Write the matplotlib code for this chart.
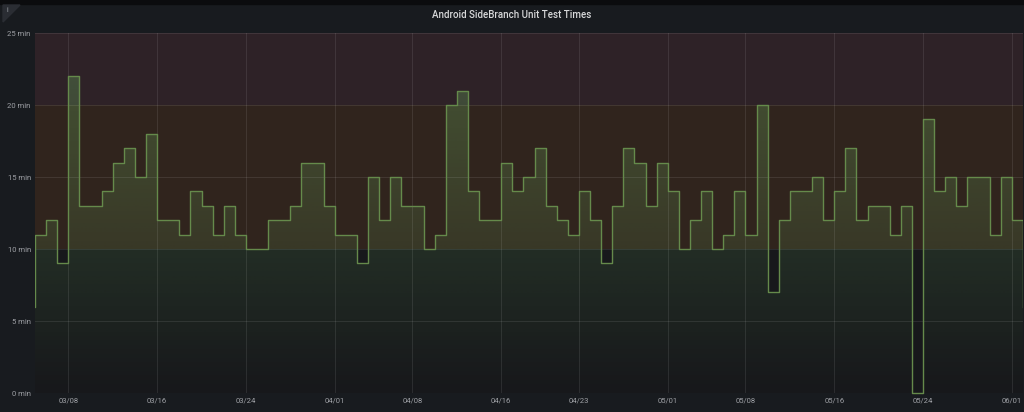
import numpy as np
import pandas as pd
import matplotlib
matplotlib.use("Agg")
import matplotlib.pyplot as plt
import matplotlib.dates as mdates
from matplotlib.patches import Rectangle, Polygon

# ---------------- data ----------------
title = "Android SideBranch Unit Test Times"
start_date = "2021-03-04"
# daily unit test time in minutes (first and last are partial points at the window edges)
minutes = [6,
           11, 12, 9, 22, 13, 13, 14, 16, 17, 15, 18, 12, 12, 11, 14, 13, 11, 13, 11,
           10, 10, 12, 12, 13, 16, 16, 13,
           11, 11, 9, 15, 12, 15, 13, 13, 10, 11, 20, 21, 14, 12, 12, 16, 14, 15, 17,
           13, 12, 11, 14, 12, 9, 13, 17, 16, 13, 16,
           14, 10, 12, 14, 10, 11, 14, 11, 20, 7, 12, 14, 14, 15, 12, 14, 17, 12, 13,
           13, 11, 13, 0, 19, 14, 15, 13, 15, 15, 11, 15,
           12,
           6]
dates = pd.date_range(start_date, periods=len(minutes), freq="D")
x_min, x_max = "2021-03-05", "2021-06-02"
tick_dates = ["2021-03-08", "2021-03-16", "2021-03-24", "2021-04-01", "2021-04-08",
              "2021-04-16", "2021-04-23", "2021-05-01", "2021-05-08", "2021-05-16",
              "2021-05-24", "2021-06-01"]
y_ticks = [0, 5, 10, 15, 20, 25]
y_tick_labels = ["0 min", "5 min", "10 min", "15 min", "20 min", "25 min"]
thresholds = [(10, 20, "#30241d"), (20, 25, "#2e2227")]

# ---------------- style ----------------
plt.rcParams['font.family'] = ['Roboto', 'DejaVu Sans']
W, H = 1024, 412
fig = plt.figure(figsize=(W / 100, H / 100), dpi=100, facecolor="#181b1f")

# header strip and info corner
fig.patches.append(Rectangle((0, 1 - 4 / H), 1, 4 / H, transform=fig.transFigure,
                             color="#0b0c0e", zorder=0))
fig.patches.append(Polygon([(3 / W, 1 - 5 / H), (20 / W, 1 - 5 / H), (3 / W, 1 - 22 / H)],
                           closed=True, transform=fig.transFigure,
                           color="#2a2d33", zorder=1))
fig.text(7 / W, 1 - 10 / H, "i", color="#9fa3a9", fontsize=5, ha="center", va="center")

fig.text(0.5, 1 - 15 / H, title, color="#d8d9da", fontsize=7, ha="center", va="center",
         fontweight="medium")

left, right, top, bottom = 35, 1023, 33, 393
ax = fig.add_axes([left / W, 1 - bottom / H, (right - left) / W, (bottom - top) / H])
ax.set_facecolor("#17181b")

xn = mdates.date2num(dates)
ax.set_xlim(mdates.date2num(pd.Timestamp(x_min)), mdates.date2num(pd.Timestamp(x_max)))
ax.set_ylim(0, 25)

# threshold bands
for lo, hi, c in thresholds:
    ax.axhspan(lo, hi, color=c, zorder=0, lw=0)

# grid
ax.set_xticks(mdates.date2num(pd.to_datetime(tick_dates)))
ax.set_xticklabels([pd.Timestamp(d).strftime("%m/%d") for d in tick_dates])
ax.set_yticks(y_ticks)
ax.set_yticklabels(y_tick_labels)
ax.grid(True, color="#ffffff", alpha=0.09, lw=0.8, zorder=1)
ax.set_axisbelow(False)
for s in ax.spines.values():
    s.set_visible(False)
ax.tick_params(length=0, colors="#9fa1a6", labelsize=5.5, pad=3)
ax.tick_params(axis="y", pad=3)

# gradient fill under step line
poly = ax.fill_between(xn, minutes, step="post", facecolor="none", edgecolor="none", zorder=2)
ys = np.linspace(25, 0, 400)
rgba = np.zeros((400, 2, 4))
rgba[..., 0] = 0x73 / 255
rgba[..., 1] = 0xbf / 255
rgba[..., 2] = 0x69 / 255
rgba[..., 3] = (np.clip(ys, 0, 25) * 0.013)[:, None]
xl = ax.get_xlim()
im = ax.imshow(rgba, extent=[xl[0], xl[1], 0, 25], aspect="auto", zorder=2,
               interpolation="bilinear", origin="upper")
path = poly.get_paths()[0]
im.set_clip_path(path, transform=ax.transData)
ax.set_xlim(xl)
ax.set_ylim(0, 25)

line, = ax.step(xn, minutes, where="post", color="#658a4b", lw=1.0, zorder=3)
clip_rect = Rectangle((0, -0.01), 1, 1.02, transform=ax.transAxes, fill=False)
line.set_clip_path(clip_rect)
ax.set_xlim(xl)

fig.savefig("out.png", dpi=100, facecolor=fig.get_facecolor())
